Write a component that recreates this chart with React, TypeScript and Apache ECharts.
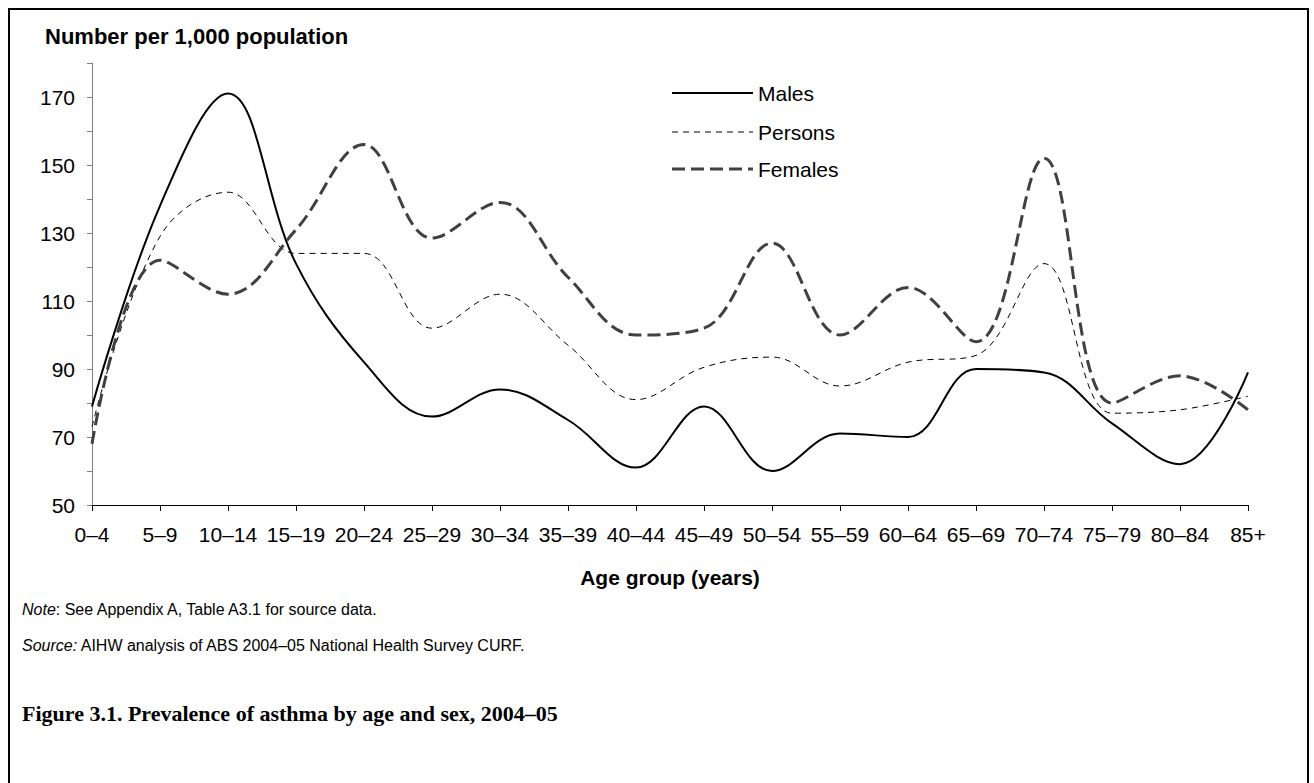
import React, { useEffect, useRef } from "react";
import * as echarts from "echarts";

const categories = ["0–4", "5–9", "10–14", "15–19", "20–24", "25–29", "30–34", "35–39", "40–44", "45–49", "50–54", "55–59", "60–64", "65–69", "70–74", "75–79", "80–84", "85+"];
const males = [79, 138, 171, 121, 92, 76, 84, 75, 61, 79, 60, 71, 70, 90, 89, 74, 62, 89];
const persons = [73, 129, 142, 124, 124, 102, 112, 97, 81, 90.5, 93.5, 85, 92, 94, 121, 77, 78, 82];
const females = [68, 122, 112, 131, 156, 128.5, 139, 117, 100, 102, 127, 100, 114, 98, 152, 80, 88, 78];

const seriesNames = ["Males", "Persons", "Females"];
const yTitle = "Number per 1,000 population";
const xTitle = "Age group (years)";
const noteText = "{i|Note}: See Appendix A, Table A3.1 for source data.";
const sourceText = "{i|Source:} AIHW analysis of ABS 2004–05 National Health Survey CURF.";
const figTitle = "Figure 3.1. Prevalence of asthma by age and sex, 2004–05";

const SANS = '"Liberation Sans", Arial, sans-serif';
const SERIF = '"Liberation Serif", "Times New Roman", serif';

const lineStyles = [
  { color: "#000", width: 2, dash: null as number[] | null },
  { color: "#000", width: 1, dash: [6, 5] },
  { color: "#404040", width: 3, dash: [13, 6] },
];

export default function App() {
  const ref = useRef<HTMLDivElement>(null);
  useEffect(() => {
    if (!ref.current) return;
    const chart = echarts.init(ref.current, null, { renderer: "svg" });
    const dataSets = [males, persons, females];
    const legendY = [93, 132, 169];
    const legendGraphics: any[] = [];
    seriesNames.forEach((n, i) => {
      const ls = lineStyles[i];
      legendGraphics.push({
        type: "line",
        shape: { x1: 672, y1: legendY[i], x2: 753, y2: legendY[i] },
        style: { stroke: ls.color, lineWidth: ls.width, lineDash: ls.dash || undefined },
        silent: true,
      });
      legendGraphics.push({
        type: "text",
        x: 758,
        y: legendY[i],
        style: { text: n, font: `21px ${SANS}`, fill: "#000", verticalAlign: "middle", align: "left" },
      });
    });
    chart.setOption({
      animation: false,
      backgroundColor: "#fff",
      textStyle: { fontFamily: SANS },
      grid: { left: 92, right: 66, top: 63, bottom: 278, containLabel: false },
      xAxis: {
        type: "category",
        data: categories,
        boundaryGap: false,
        axisLine: { lineStyle: { color: "#000", width: 1 } },
        axisTick: { show: true, length: 6, lineStyle: { color: "#000" } },
        axisLabel: { interval: 0, fontSize: 21, color: "#000", margin: 19, fontFamily: SANS },
        splitLine: { show: false },
      },
      yAxis: {
        type: "value",
        min: 50,
        max: 180,
        interval: 10,
        axisLine: { show: true, lineStyle: { color: "#808080", width: 1 } },
        axisTick: { show: true, length: 5, lineStyle: { color: "#808080" } },
        axisLabel: {
          fontSize: 21,
          color: "#000",
          margin: 17,
          fontFamily: SANS,
          formatter: (v: number) => ((v - 50) % 20 === 0 && v <= 170 ? String(v) : ""),
        },
        splitLine: { show: false },
      },
      series: seriesNames.map((n, i) => ({
        name: n,
        type: "line",
        data: dataSets[i],
        symbol: "none",
        smooth: 0.38,
        lineStyle: { color: lineStyles[i].color, width: lineStyles[i].width, type: lineStyles[i].dash || "solid" },
        itemStyle: { color: lineStyles[i].color },
      })),
      graphic: [
        {
          type: "rect",
          shape: { x: 9, y: 9, width: 1299, height: 800 },
          style: { fill: "none", stroke: "#000", lineWidth: 2 },
          silent: true,
        },
        ...legendGraphics,
        {
          type: "text",
          x: 45,
          y: 36,
          style: { text: yTitle, font: `bold 22px ${SANS}`, fill: "#000", verticalAlign: "middle", align: "left" },
        },
        {
          type: "text",
          x: 670,
          y: 577,
          style: { text: xTitle, font: `bold 21px ${SANS}`, fill: "#000", verticalAlign: "middle", align: "center" },
        },
        {
          type: "text",
          x: 22,
          y: 609,
          style: {
            text: noteText,
            fontSize: 16,
            fontFamily: SANS,
            fill: "#000",
            verticalAlign: "middle",
            rich: { i: { fontStyle: "italic", fontSize: 16, fontFamily: SANS } },
          },
        },
        {
          type: "text",
          x: 22,
          y: 645,
          style: {
            text: sourceText,
            fontSize: 16,
            fontFamily: SANS,
            fill: "#000",
            verticalAlign: "middle",
            rich: { i: { fontStyle: "italic", fontSize: 16, fontFamily: SANS } },
          },
        },
        {
          type: "text",
          x: 22,
          y: 713,
          style: { text: figTitle, font: `bold 22px ${SERIF}`, fill: "#000", verticalAlign: "middle", align: "left" },
        },
      ],
    });
    return () => chart.dispose();
  }, []);
  return <div ref={ref} style={{ position: "fixed", left: 0, top: 0, width: 1314, height: 783 }} />;
}
